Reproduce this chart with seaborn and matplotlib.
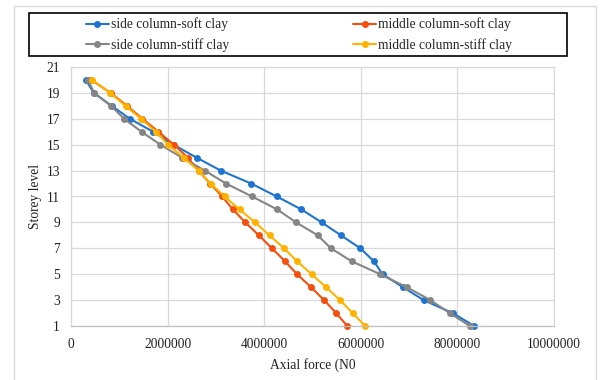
import numpy as np
import pandas as pd
import matplotlib
matplotlib.use("Agg")
import matplotlib.pyplot as plt
import seaborn as sns
from matplotlib.patches import Rectangle
from matplotlib.lines import Line2D

# ---------------- data ----------------
storey_levels = [20, 19, 18, 17, 16, 15, 14, 13, 12, 11, 10, 9, 8, 7, 6, 5, 4, 3, 2, 1]
side_soft = [310000, 470000, 840000, 1220000, 1700000, 2120000, 2600000, 3100000, 3730000, 4260000,
             4770000, 5190000, 5590000, 5990000, 6270000, 6450000, 6870000, 7300000, 7900000, 8350000]
middle_soft = [420000, 820000, 1160000, 1480000, 1810000, 2130000, 2420000, 2640000, 2880000, 3130000,
               3350000, 3610000, 3890000, 4160000, 4430000, 4680000, 4970000, 5240000, 5490000, 5720000]
side_stiff = [350000, 480000, 830000, 1100000, 1460000, 1850000, 2300000, 2770000, 3210000, 3750000,
              4270000, 4660000, 5110000, 5380000, 5810000, 6400000, 6950000, 7440000, 7840000, 8260000]
middle_stiff = [440000, 810000, 1130000, 1450000, 1760000, 2010000, 2330000, 2640000, 2890000, 3180000,
                3490000, 3810000, 4110000, 4410000, 4680000, 4980000, 5280000, 5570000, 5830000, 6090000]

series_names = ["side column-soft clay", "middle column-soft clay",
                "side column-stiff clay", "middle column-stiff clay"]
series_values = [side_soft, middle_soft, side_stiff, middle_stiff]
series_colors = ["#1f74d0", "#f2500c", "#858585", "#ffb300"]

x_ticks = [0, 2000000, 4000000, 6000000, 8000000, 10000000]
y_ticks = [1, 3, 5, 7, 9, 11, 13, 15, 17, 19, 21]
x_label = "Axial force (N0"
y_label = "Storey level"

rows = []
for name, vals in zip(series_names, series_values):
    for lv, v in zip(storey_levels, vals):
        rows.append({"series": name, "level": lv, "force": v})
df = pd.DataFrame(rows)

# ---------------- figure ----------------
sns.set_style("white")
plt.rcParams["font.family"] = ["Liberation Serif", "DejaVu Serif"]

FS = 9.75
W, H = 601, 380
fig = plt.figure(figsize=(W / 100, H / 100), dpi=100)

def fx(px):
    return px / W

def fy(py):
    return 1 - py / H

ax = fig.add_axes([fx(71), fy(326), fx(554) - fx(71), fy(67) - fy(326)])

pal = dict(zip(series_names, series_colors))
for name in series_names:
    sub = df[df["series"] == name]
    sns.lineplot(data=sub, x="force", y="level", sort=False, color=pal[name],
                 marker="o", markersize=5, markeredgewidth=0, linewidth=1.5,
                 ax=ax, legend=False, estimator=None)

ax.set_xlim(0, 10000000)
ax.set_ylim(1, 21)
ax.set_xticks(x_ticks)
ax.set_xticklabels([str(t) for t in x_ticks])
ax.set_yticks(y_ticks)
ax.set_yticklabels([str(t) for t in y_ticks])
ax.tick_params(axis="both", length=0, labelsize=FS, colors="#222222")
ax.tick_params(axis="x", pad=9)
ax.tick_params(axis="y", pad=8)
ax.grid(True, color="#d9d9d9", linewidth=0.9)
ax.set_axisbelow(True)
for s in ax.spines.values():
    s.set_color("#d9d9d9")
    s.set_linewidth(0.9)
ax.spines["bottom"].set_color("#bfbfbf")
for l in ax.lines:
    l.set_clip_on(False)

ax.set_xlabel(x_label, fontsize=FS, color="#222222", labelpad=5)
ax.set_ylabel(y_label, fontsize=FS, color="#222222", labelpad=3)

# outer chart border
fig.patches.append(Rectangle((fx(14), fy(383)), fx(596) - fx(14), fy(6) - fy(383),
                             transform=fig.transFigure, fill=False,
                             edgecolor="#d9d9d9", linewidth=1))
# legend frame
fig.patches.append(Rectangle((fx(28.7), fy(56)), fx(567) - fx(28.7), fy(13.3) - fy(56),
                             transform=fig.transFigure, fill=False,
                             edgecolor="black", linewidth=1.2))

order = [0, 2, 1, 3]
handles = [Line2D([0], [0], color=series_colors[i], marker="o", markersize=5,
                  markeredgewidth=0, linewidth=1.5) for i in order]
labels = [series_names[i] for i in order]
fig.legend(handles, labels, ncol=2, loc="center",
           bbox_to_anchor=(fx(299), fy(34.7)), frameon=False,
           fontsize=FS, handlelength=1.7, handletextpad=0.15,
           columnspacing=9.2, labelspacing=0.5, borderpad=0)

fig.savefig("out.png", dpi=100)
